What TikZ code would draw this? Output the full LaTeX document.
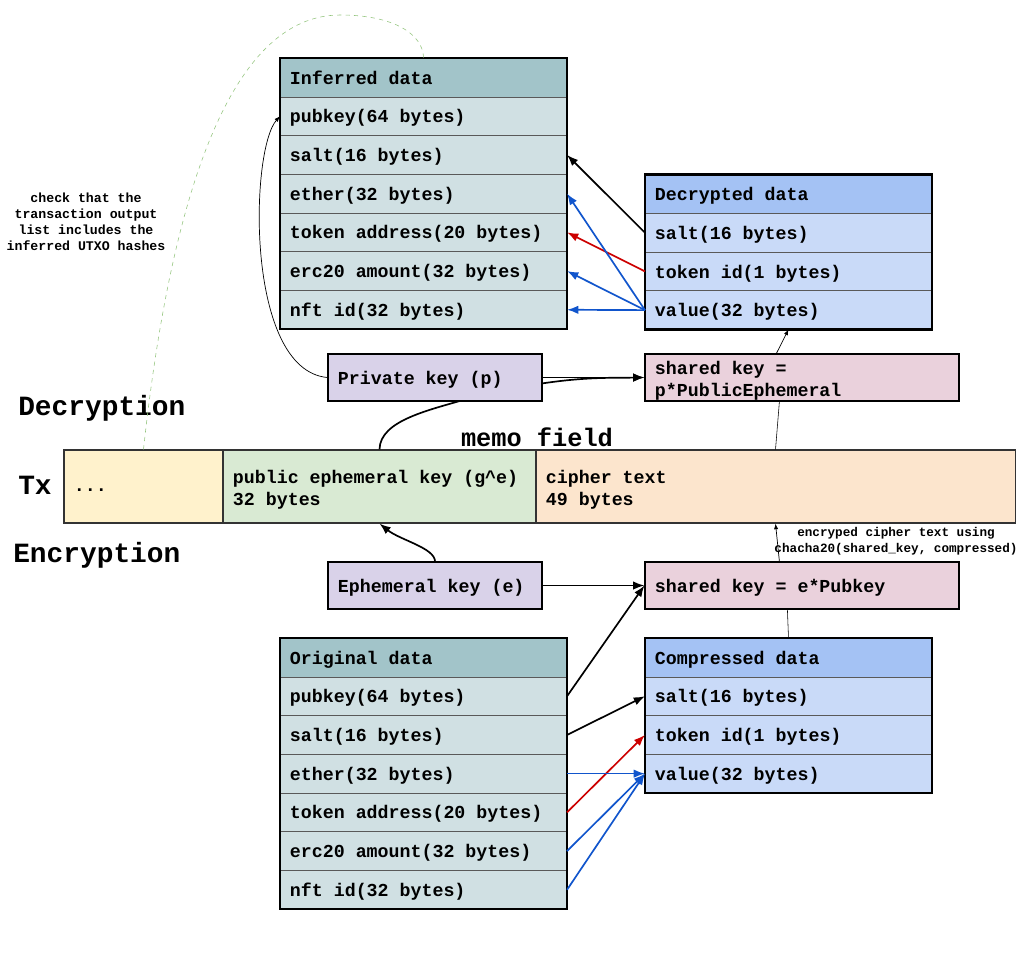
\documentclass[tikz,border=0pt]{standalone}
\usepackage{fontspec}
\setmainfont{Liberation Mono}
\usepackage{tikz}
\usetikzlibrary{positioning,calc,arrows.meta}
\definecolor{headteal}{HTML}{A2C4C9}
\definecolor{rowteal}{HTML}{D0E0E3}
\definecolor{headblue}{HTML}{A4C2F4}
\definecolor{rowblue}{HTML}{C9DAF8}
\definecolor{keypurple}{HTML}{D9D2E9}
\definecolor{sharedpink}{HTML}{EAD1DC}
\definecolor{dotsyellow}{HTML}{FFF2CC}
\definecolor{pubgreen}{HTML}{D9EAD3}
\definecolor{cipherorange}{HTML}{FCE5CD}
\definecolor{linkred}{HTML}{CC0000}
\definecolor{linkblue}{HTML}{1155CC}
\definecolor{dashgreen}{HTML}{93C47D}
\tikzstyle{cell} = [draw=black!65, rectangle, fill=rowteal,
                    text width=6.675cm, minimum height=0.9675cm, text depth=-1pt,
                    inner xsep=0.25cm, inner ysep=0pt, outer sep=0pt, align=flush left]
\tikzstyle{head} = [cell, fill=headteal]
\tikzstyle{dcell} = [cell, fill=rowblue]
\tikzstyle{dhead} = [cell, fill=headblue]
\tikzstyle{frame} = [draw=black, line width=1.8pt]
\tikzstyle{boxbase} = [draw=black, thick, rectangle, minimum height=1.175cm,
                       inner xsep=0.25cm, inner ysep=0pt, align=flush left]
\tikzstyle{keybox} = [boxbase, fill=keypurple, text width=4.85cm, text depth=-1pt]
\tikzstyle{shared} = [boxbase, fill=sharedpink, text width=7.35cm, text depth=14pt]
\tikzstyle{txbox} = [draw=black!80, thick, rectangle, minimum height=1.825cm,
                     text depth=14pt, inner xsep=0.25cm, inner ysep=0pt, align=flush left]
\tikzstyle{big} = [font=\fontsize{19.8}{22}\selectfont\bfseries, inner sep=0pt]
\tikzstyle{note} = [font=\fontsize{9.4}{11.4}\selectfont\bfseries, align=flush center]
\tikzstyle{link} = [line width=1.2pt, -{Latex[length=8pt,width=6pt]}]
\tikzstyle{thinlink} = [line width=0.5pt, -{Latex[length=4pt,width=3pt]}]
\begin{document}
\begin{tikzpicture}[x=0.025cm, y=-0.025cm, font=\fontsize{13}{15.6}\selectfont\bfseries]%
  \useasboundingbox (0,0) rectangle (1024,959);
  \node[big, anchor=west] (dectitle) at (18,408) {Decryption};
  \node[big, anchor=west] (txtitle) at (18,485) {Tx};
  \node[big, anchor=west] (enctitle) at (13,555) {Encryption};
  \node[big, font=\fontsize{18}{20}\selectfont\bfseries] (memotitle) at (537,437) {memo field};

  \node[head] (inf0) at (423.5,77.5) {Inferred data};
  \node[cell, below=0pt of inf0] (inf1) {pubkey(64 bytes)};
  \node[cell, below=0pt of inf1] (inf2) {salt(16 bytes)};
  \node[cell, below=0pt of inf2] (inf3) {ether(32 bytes)};
  \node[cell, below=0pt of inf3] (inf4) {token address(20 bytes)};
  \node[cell, below=0pt of inf4] (inf5) {erc20 amount(32 bytes)};
  \node[cell, below=0pt of inf5] (inf6) {nft id(32 bytes)};
  \draw[frame] (inf0.north west) rectangle (inf6.south east);

  \node[dhead] (dec0) at (788.5,194) {Decrypted data};
  \node[dcell, below=0pt of dec0] (dec1) {salt(16 bytes)};
  \node[dcell, below=0pt of dec1] (dec2) {token id(1 bytes)};
  \node[dcell, below=0pt of dec2] (dec3) {value(32 bytes)};
  \draw[frame] (dec0.north west) rectangle (dec3.south east);

  \node[txbox, fill=dotsyellow, text width=3.475cm, text height=7pt, text depth=-1pt]
    (dots) at (143.5,486.5) {...};
  \node[txbox, fill=pubgreen, text width=7.325cm] (pub) at (379.5,486.5)
    {public ephemeral key (g\textasciicircum e)\\32 bytes};
  \node[txbox, fill=cipherorange, text width=11.475cm] (cipher) at (775.5,486.5)
    {cipher text\\49 bytes};

  \node[shared] (sharedp) at (802,377.5) {shared key =\\p*PublicEphemeral};
  \draw[link] (pub.north) .. controls (380,420) and (430,410) .. (470,398)
    .. controls (560,376) and (600,378) .. (sharedp.west);
  \node[keybox] (priv) at (435,377.5) {Private key (p)};

  \node[keybox] (ekey) at (435,585.5) {Ephemeral key (e)};
  \node[shared, text depth=-1pt] (sharede) at (802,585.5) {shared key = e*Pubkey};

  \node[head] (orig0) at (423.5,657.5) {Original data};
  \node[cell, below=0pt of orig0] (orig1) {pubkey(64 bytes)};
  \node[cell, below=0pt of orig1] (orig2) {salt(16 bytes)};
  \node[cell, below=0pt of orig2] (orig3) {ether(32 bytes)};
  \node[cell, below=0pt of orig3] (orig4) {token address(20 bytes)};
  \node[cell, below=0pt of orig4] (orig5) {erc20 amount(32 bytes)};
  \node[cell, below=0pt of orig5] (orig6) {nft id(32 bytes)};
  \draw[frame] (orig0.north west) rectangle (orig6.south east);

  \node[dhead] (comp0) at (788.5,657.5) {Compressed data};
  \node[dcell, below=0pt of comp0] (comp1) {salt(16 bytes)};
  \node[dcell, below=0pt of comp1] (comp2) {token id(1 bytes)};
  \node[dcell, below=0pt of comp2] (comp3) {value(32 bytes)};
  \draw[frame] (comp0.north west) rectangle (comp3.south east);

  \node[note] (checknote) at (86,222)
    {check that the\\transaction output\\list includes the\\inferred UTXO hashes};
  \node[note, font=\fontsize{9}{11.4}\selectfont\bfseries] (encnote) at (896,541)
    {encryped cipher text using\\chacha20(shared\_key, compressed)};

  \draw[link] (dec1.west) -- (inf2.east);
  \draw[link, linkred] (dec2.west) -- (inf4.east);
  \draw[link, linkblue] (dec3.west) -- (inf3.east);
  \draw[link, linkblue] (dec3.west) -- (inf5.east);
  \draw[link, linkblue] (dec3.west) -- (inf6.east);

  \draw[link] (priv.east) -- (sharedp.west);
  \draw[thinlink] ($(sharedp.north west)+(132,0)$) -- (dec3.south);
  \draw[thin] (cipher.north) -- ($(sharedp.south west)+(135,0)$);
  \draw[thinlink] (priv.west) .. controls (245,370) and (250,150) .. (inf1.west);
  \draw[dashgreen, thin, dashed] (dots.north) .. controls (165,250) and (215,15) .. (340,15)
    .. controls (395,15) and (423.5,35) .. (inf0.north);

  \draw[link] (ekey.north) .. controls (435,548) and (400,540) .. (pub.south);
  \draw[link] (ekey.east) -- (sharede.west);
  \draw[thinlink] ($(sharede.north west)+(135,0)$) -- (cipher.south);
  \draw[thin] (comp0.north) -- ($(sharede.south west)+(143,0)$);

  \draw[link] (orig1.east) -- (sharede.west);
  \draw[link] (orig2.east) -- (comp1.west);
  \draw[link, linkred] (orig4.east) -- (comp2.west);
  \draw[link, linkblue] (orig3.east) -- (comp3.west);
  \draw[link, linkblue] (orig5.east) -- (comp3.west);
  \draw[link, linkblue] (orig6.east) -- (comp3.west);
\end{tikzpicture}
\end{document}
